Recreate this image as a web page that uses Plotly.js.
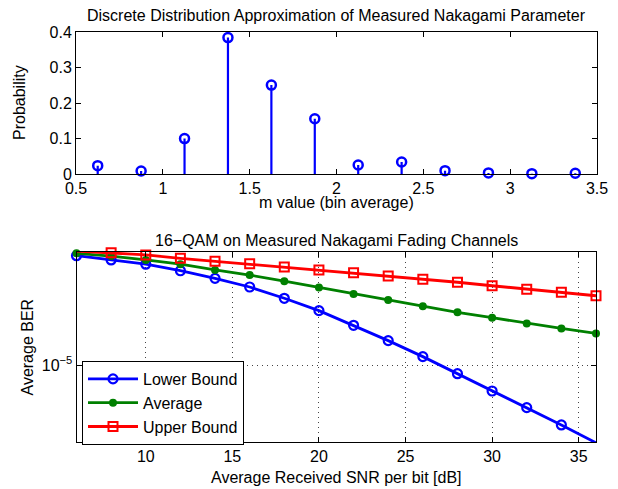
<!DOCTYPE html>
<html>
<head>
<meta charset="utf-8">
<script src="https://cdn.plot.ly/plotly-3.0.1.min.js"></script>
<style>html,body{margin:0;padding:0;background:#fff;}#chart{width:618px;height:489px;}</style>
</head>
<body>
<div id="chart"></div>
<script>
// Top chart: discrete distribution of Nakagami m
const mBins = [0.625, 0.875, 1.125, 1.375, 1.625, 1.875, 2.125, 2.375, 2.625, 2.875, 3.125, 3.375];
const prob = [0.0235, 0.0085, 0.100, 0.385, 0.251, 0.156, 0.0254, 0.034, 0.0094, 0.003, 0.001, 0.002];

// Bottom chart: 16-QAM BER
const snrDb = [6, 8, 10, 12, 14, 16, 18, 20, 22, 24, 26, 28, 30, 32, 34, 36];
const berLower = [6.93e-5, 6.43e-5, 5.96e-5, 5.31e-5, 4.64e-5, 3.98e-5, 3.26e-5, 2.62e-5, 2.02e-5, 1.54e-5, 1.16e-5, 8.57e-6, 6.31e-6, 4.70e-6, 3.46e-6, 2.52e-6];
const berAverage = [7.23e-5, 6.89e-5, 6.43e-5, 5.96e-5, 5.38e-5, 4.92e-5, 4.41e-5, 3.94e-5, 3.52e-5, 3.16e-5, 2.83e-5, 2.54e-5, 2.31e-5, 2.09e-5, 1.91e-5, 1.75e-5];
const berUpper = [7.53e-5, 7.31e-5, 7.02e-5, 6.62e-5, 6.28e-5, 6.01e-5, 5.68e-5, 5.38e-5, 5.13e-5, 4.84e-5, 4.56e-5, 4.33e-5, 4.07e-5, 3.82e-5, 3.62e-5, 3.41e-5];

const topXTicks = [0.5, 1, 1.5, 2, 2.5, 3, 3.5];
const topXTickText = ['0.5', '1', '1.5', '2', '2.5', '3', '3.5'];
const topYTicks = [0, 0.1, 0.2, 0.3, 0.4];
const topYTickText = ['0', '0.1', '0.2', '0.3', '0.4'];
const botXTicks = [10, 15, 20, 25, 30, 35];
const botYTicks = [1e-5];
const botYTickText = ['10<sup>\u22125</sup>'];

const FONT = 'Liberation Sans, Arial, Helvetica, sans-serif';
const W = 618, H = 489;

const traces = [
  {
    x: mBins, y: prob, xaxis: 'x', yaxis: 'y',
    type: 'scatter', mode: 'markers', showlegend: false, cliponaxis: false,
    marker: {symbol: 'circle-open', size: 9, color: '#0000ff', line: {color: '#0000ff', width: 2.5}},
    error_y: {type: 'data', symmetric: false, array: prob.map(() => 0), arrayminus: prob,
              color: '#0000ff', thickness: 2.2, width: 0}
  },
  {
    x: snrDb, y: berLower, xaxis: 'x2', yaxis: 'y2', name: 'Lower Bound',
    type: 'scatter', mode: 'lines+markers', cliponaxis: false,
    line: {color: '#0000ff', width: 2.8},
    marker: {symbol: 'circle-open', size: 9, color: '#0000ff', line: {color: '#0000ff', width: 2.2}}
  },
  {
    x: snrDb, y: berAverage, xaxis: 'x2', yaxis: 'y2', name: 'Average',
    type: 'scatter', mode: 'lines+markers', cliponaxis: false,
    line: {color: '#008000', width: 2.8},
    marker: {symbol: 'circle', size: 8, color: '#008000'}
  },
  {
    x: snrDb, y: berUpper, xaxis: 'x2', yaxis: 'y2', name: 'Upper Bound',
    type: 'scatter', mode: 'lines+markers', cliponaxis: false,
    line: {color: '#ff0000', width: 2.8},
    marker: {symbol: 'square-open', size: 9, color: '#ff0000', line: {color: '#ff0000', width: 2}}
  }
];

const axisCommon = {
  showline: true, linecolor: '#000', linewidth: 1, mirror: 'ticks',
  ticks: 'inside', ticklen: 5, tickcolor: '#000', tickwidth: 1,
  zeroline: false, tickfont: {family: FONT, size: 16, color: '#000'}, fixedrange: true
};

const layout = {
  width: W, height: H,
  margin: {l: 0, r: 0, t: 0, b: 0},
  paper_bgcolor: '#fff', plot_bgcolor: '#fff',
  font: {family: FONT, size: 16, color: '#000'},
  xaxis: Object.assign({}, axisCommon, {
    domain: [76 / W, 597 / W], anchor: 'y', range: [0.5, 3.5],
    tickvals: topXTicks, ticktext: topXTickText, showgrid: false
  }),
  yaxis: Object.assign({}, axisCommon, {
    domain: [1 - 174 / H, 1 - 32.3 / H], anchor: 'x', range: [0, 0.4],
    tickvals: topYTicks, ticktext: topYTickText, showgrid: false
  }),
  xaxis2: Object.assign({}, axisCommon, {
    domain: [76.5 / W, 596 / W], anchor: 'y2', range: [6, 36],
    tickvals: botXTicks, showgrid: true, gridcolor: '#444', gridwidth: 1, griddash: '1px,4px'
  }),
  yaxis2: Object.assign({}, axisCommon, {
    domain: [1 - 442 / H, 1 - 251.7 / H], anchor: 'x2', type: 'log',
    range: [-5.5923, -4.1285],
    tickvals: botYTicks, ticktext: botYTickText, showgrid: true, gridcolor: '#444', gridwidth: 1, griddash: '1px,4px'
  }),
  showlegend: true,
  legend: {
    x: 82 / W, y: 1 - 361 / H, xanchor: 'left', yanchor: 'top',
    bgcolor: '#fff', bordercolor: '#000', borderwidth: 1,
    font: {family: FONT, size: 16, color: '#000'}, tracegroupgap: 0, itemwidth: 50
  },
  annotations: [
    {text: 'Discrete Distribution Approximation of Measured Nakagami Parameter', xref: 'paper', yref: 'paper',
     x: 336.5 / W, y: 1 - 15 / H, xanchor: 'center', yanchor: 'middle', showarrow: false, font: {size: 16}},
    {text: 'm value (bin average)', xref: 'paper', yref: 'paper',
     x: 336.5 / W, y: 1 - 202 / H, xanchor: 'center', yanchor: 'middle', showarrow: false, font: {size: 16}},
    {text: 'Probability', xref: 'paper', yref: 'paper', textangle: -90,
     x: 20 / W, y: 1 - 103 / H, xanchor: 'center', yanchor: 'middle', showarrow: false, font: {size: 16}},
    {text: '16\u2212QAM on Measured Nakagami Fading Channels', xref: 'paper', yref: 'paper',
     x: 336.5 / W, y: 1 - 240 / H, xanchor: 'center', yanchor: 'middle', showarrow: false, font: {size: 16}},
    {text: 'Average Received SNR per bit [dB]', xref: 'paper', yref: 'paper',
     x: 336.5 / W, y: 1 - 477 / H, xanchor: 'center', yanchor: 'middle', showarrow: false, font: {size: 16}},
    {text: 'Average BER', xref: 'paper', yref: 'paper', textangle: -90,
     x: 26.5 / W, y: 1 - 347 / H, xanchor: 'center', yanchor: 'middle', showarrow: false, font: {size: 16}}
  ]
};

Plotly.newPlot('chart', traces, layout, {staticPlot: true, displayModeBar: false});
</script>
</body>
</html>
